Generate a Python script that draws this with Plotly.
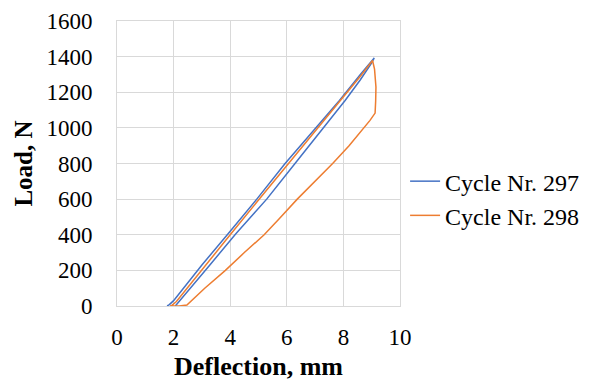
import plotly.graph_objects as go

# Cycle Nr. 297 (loading up, then unloading down)
c297_x = [1.77, 1.85, 2.0, 3.0, 4.0, 4.94, 5.94, 7.0, 7.86, 8.6, 9.09,
          9.0, 8.6, 8.06, 7.2, 6.29, 5.29, 4.2, 3.2, 2.4, 2.15, 2.06]
c297_y = [0, 8, 30, 230, 420, 600, 800, 995, 1154, 1300, 1393,
          1365, 1270, 1154, 985, 800, 600, 405, 215, 60, 15, 0]

# Cycle Nr. 298 (loading up, creep at peak, unloading down, flat at zero)
c298_x = [1.88, 1.95, 2.1, 3.0, 4.0, 5.0, 6.0, 7.0, 7.9, 8.6, 9.03,
          9.1, 9.15, 9.14, 9.12, 8.94, 8.67, 8.2, 7.62, 6.95, 6.37, 5.74,
          5.2, 4.5, 3.83, 3.1, 2.6, 2.47, 2.2, 1.95]
c298_y = [0, 5, 25, 205, 400, 595, 790, 985, 1155, 1290, 1378,
          1330, 1230, 1150, 1083, 1042, 990, 900, 800, 695, 600, 491,
          400, 300, 200, 100, 25, 5, 0, 0]

x_ticks = [0, 2, 4, 6, 8, 10]
y_ticks = [0, 200, 400, 600, 800, 1000, 1200, 1400, 1600]

FONT = "Liberation Serif"
GRID = "#d9d9d9"

fig = go.Figure()
fig.add_trace(go.Scatter(x=c297_x, y=c297_y, mode="lines", name="Cycle Nr. 297",
                         line=dict(color="#4472C4", width=1.5)))
fig.add_trace(go.Scatter(x=c298_x, y=c298_y, mode="lines", name="Cycle Nr. 298",
                         line=dict(color="#ED7D31", width=1.5)))

fig.update_layout(
    width=602, height=383,
    margin=dict(l=117, r=202, t=21, b=77),
    paper_bgcolor="white", plot_bgcolor="white",
    font=dict(family=FONT, size=23, color="black"),
    showlegend=True,
    legend=dict(x=1.018, y=0.377, xanchor="left", yanchor="middle",
                xref="paper", yref="paper",
                font=dict(family=FONT, size=24, color="black"),
                itemwidth=30, tracegroupgap=0, bgcolor="rgba(0,0,0,0)"),
)
fig.update_xaxes(range=[0, 10], tickvals=x_ticks, ticktext=[str(v) for v in x_ticks],
                 automargin=False,
                 showgrid=True, gridcolor=GRID, gridwidth=1,
                 zeroline=False, showline=True, linecolor=GRID, linewidth=1, mirror=True,
                 ticks="", ticklabelstandoff=10,
                 tickfont=dict(family=FONT, size=23, color="black"),
                 title=dict(text="<b>Deflection, mm</b>", standoff=8,
                            font=dict(family=FONT, size=26, color="black")))
fig.update_yaxes(range=[0, 1600], tickvals=y_ticks, ticktext=[str(v) for v in y_ticks],
                 automargin=False,
                 showgrid=True, gridcolor=GRID, gridwidth=1,
                 zeroline=False, showline=True, linecolor=GRID, linewidth=1, mirror=True,
                 ticks="", ticklabelstandoff=19,
                 tickfont=dict(family=FONT, size=23, color="black"),
                 title=dict(text="<b>Load, N</b>", standoff=6,
                            font=dict(family=FONT, size=25, color="black")))

fig.write_html("out.html")
